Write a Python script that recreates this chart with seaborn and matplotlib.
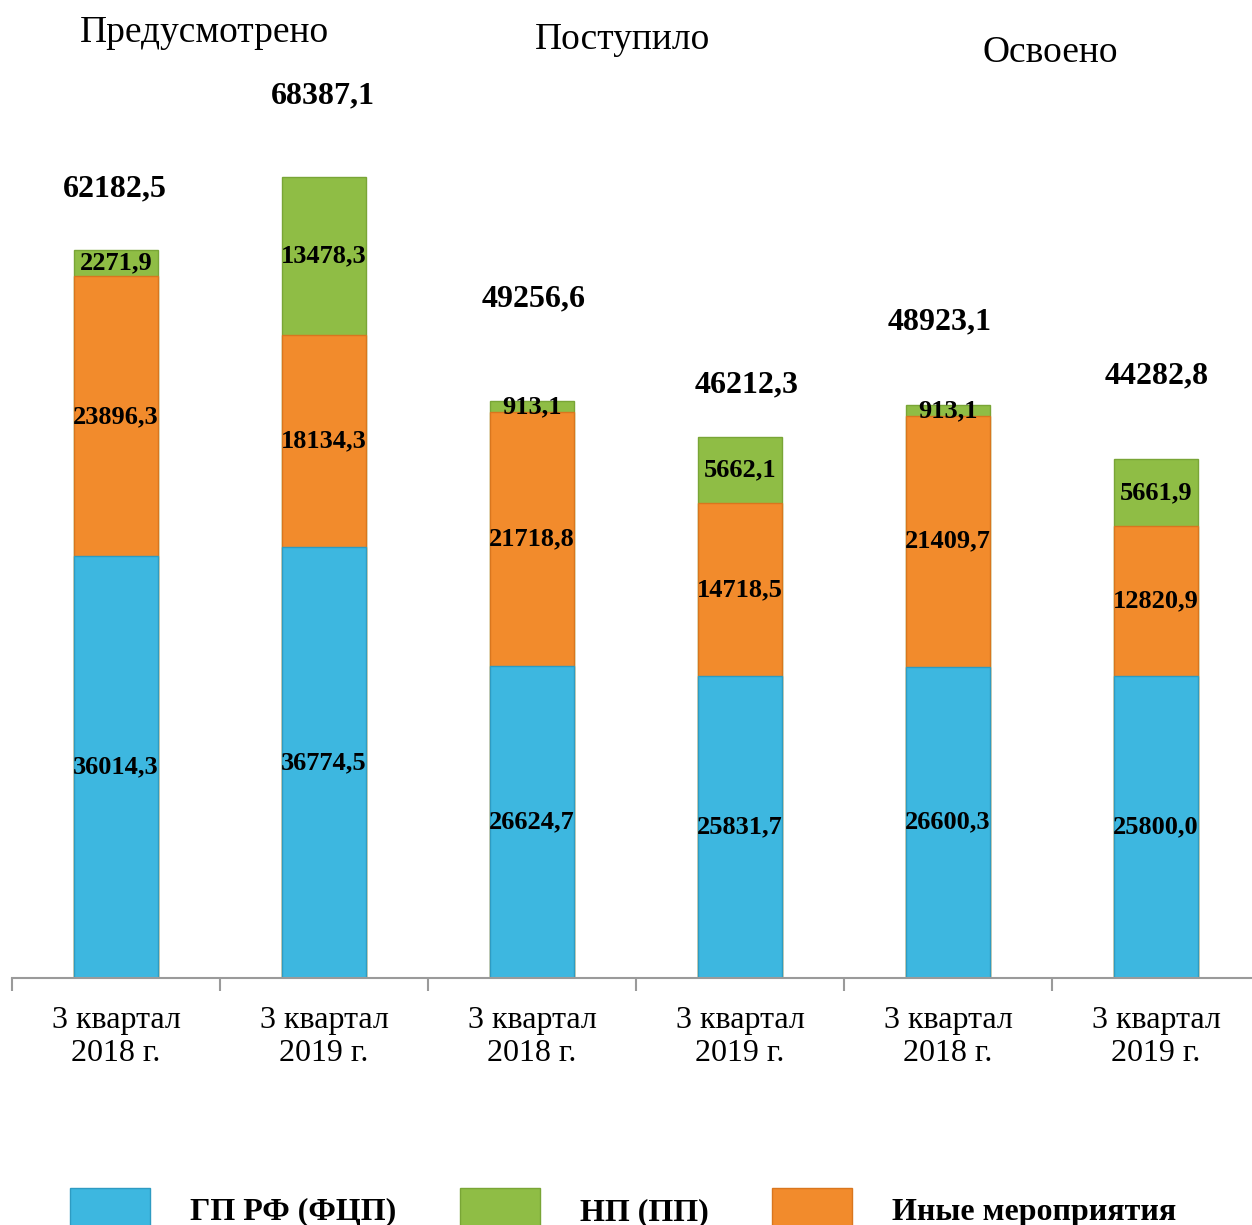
import matplotlib
matplotlib.use("Agg")
import matplotlib.pyplot as plt
import seaborn as sns
import pandas as pd
from matplotlib.patches import Patch

# ---- data ----
groups = ["Предусмотрено", "Поступило", "Освоено"]
periods = ["3 квартал\n2018 г.", "3 квартал\n2019 г."] * 3
gp_fcp = [36014.3, 36774.5, 26624.7, 25831.7, 26600.3, 25800.0]
inye = [23896.3, 18134.3, 21718.8, 14718.5, 21409.7, 12820.9]
np_pp = [2271.9, 13478.3, 913.1, 5662.1, 913.1, 5661.9]
totals = [62182.5, 68387.1, 49256.6, 46212.3, 48923.1, 44282.8]
series_names = ["ГП РФ (ФЦП)", "НП (ПП)", "Иные мероприятия"]

# ---- style ----
BLUE = "#3DB7E0"
GREEN = "#8FBD45"
ORANGE = "#F28B2C"
sns.set_theme(style="white")
plt.rcParams["font.family"] = ["Liberation Serif", "DejaVu Serif"]
plt.rcParams["text.color"] = "black"

W, H = 1252, 1225
fig = plt.figure(figsize=(W / 100, H / 100), dpi=100)
ax = fig.add_axes([12 / W, 247 / H, 1248 / W, 978 / H])

cats = [f"c{i}" for i in range(len(gp_fcp))]
df = pd.DataFrame({"cat": cats, "gp": gp_fcp, "inye": inye, "np": np_pp})
df["lvl2"] = df["gp"] + df["inye"]
df["lvl3"] = df["lvl2"] + df["np"]

common = dict(data=df, x="cat", order=cats, width=0.4, saturation=1, ax=ax,
              linewidth=1.0, errorbar=None)
sns.barplot(y="lvl3", color=GREEN, edgecolor="#79A536", **common)
sns.barplot(y="lvl2", color=ORANGE, edgecolor="#D9761E", **common)
sns.barplot(y="gp", color=BLUE, edgecolor="#2E9BC2", **common)


def fmt(v):
    return f"{v:.1f}".replace(".", ",")


# segment labels
for i in range(len(cats)):
    b = 0
    for vals in (gp_fcp, inye, np_pp):
        v = vals[i]
        ax.text(i, b + v / 2, fmt(v), ha="center", va="center",
                fontsize=19, fontweight="bold", color="black")
        b += v

# total labels (offsets in pixels above bar top)
dy_px = [61, 81, 102, 52, 83, 84]
dx_px = [-1, -1, 2, 7, -8, 1]
for i, t in enumerate(totals):
    ax.annotate(fmt(t), (i, t), xytext=(dx_px[i] * 0.72, dy_px[i] * 0.72),
                textcoords="offset points", ha="center", va="center",
                fontsize=23, fontweight="bold", color="black")

ax.set_ylim(0, 83520)
ax.set_xlim(-0.5, len(cats) - 0.5)
ax.set_xlabel("")
ax.set_ylabel("")
ax.set_yticks([])
ax.set_xticks(range(len(cats)))
ax.set_xticklabels(periods, fontsize=23, linespacing=1.2)
ax.set_xticks([i - 0.5 for i in range(len(cats) + 1)], minor=True)
ax.tick_params(axis="x", which="major", length=0, pad=20, colors="black")
ax.tick_params(axis="x", which="minor", length=9, width=1.5, color="#9A9A9A",
               bottom=True)
for s in ("left", "right", "top"):
    ax.spines[s].set_visible(False)
ax.spines["bottom"].set_color("#9A9A9A")
ax.spines["bottom"].set_linewidth(1.5)

# group titles
title_pos = [(204, 33), (622, 40), (1050, 53)]
for g, (px, py) in zip(groups, title_pos):
    fig.text(px / W, 1 - py / H, g, ha="center", va="center", fontsize=27,
             color="black")

# legend
handles = [Patch(facecolor=BLUE, edgecolor="#2E9BC2"),
           Patch(facecolor=GREEN, edgecolor="#79A536"),
           Patch(facecolor=ORANGE, edgecolor="#D9761E")]
leg = fig.legend(handles, series_names, loc="center", ncol=3,
                 bbox_to_anchor=(623 / W, 1 - 1210 / H), frameon=False,
                 prop={"size": 23, "weight": "bold"}, handlelength=2.5,
                 handleheight=1.7, handletextpad=1.25, columnspacing=2.0,
                 borderpad=0)

fig.savefig("out.png", dpi=100)
